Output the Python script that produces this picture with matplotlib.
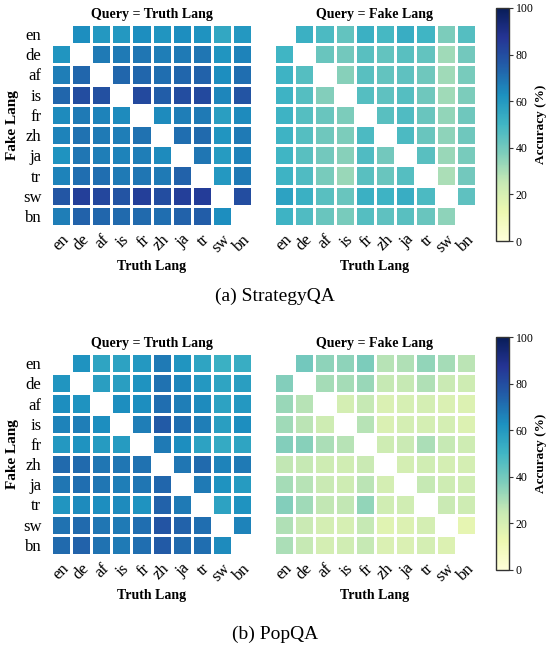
import numpy as np
import matplotlib
matplotlib.use('Agg')
import matplotlib.pyplot as plt

plt.rcParams['font.family'] = ['Liberation Serif', 'DejaVu Serif']

langs = ['en', 'de', 'af', 'is', 'fr', 'zh', 'ja', 'tr', 'sw', 'bn']

# StrategyQA, query in the truth language (rows: fake lang, cols: truth lang)
sqa_truth = [
    [np.nan, 63, 60, 60, 63, 61, 63, 62, 55, 60],
    [61, np.nan, 68, 68, 69, 67, 68, 69, 61, 66],
    [67, 73, np.nan, 73, 73, 71, 73, 74, 63, 71],
    [73, 80, 79, np.nan, 81, 75, 80, 81, 65, 78],
    [64, 68, 66, 64, np.nan, 64, 67, 68, 58, 64],
    [66, 70, 68, 67, 70, np.nan, 71, 72, 61, 68],
    [62, 69, 67, 66, 67, 64, np.nan, 69, 59, 66],
    [66, 71, 71, 68, 69, 68, 74, np.nan, 60, 68],
    [77, 84, 82, 78, 84, 80, 84, 85, np.nan, 80],
    [67, 74, 73, 72, 72, 71, 74, 75, 63, np.nan],
]

# StrategyQA, query in the fake language
sqa_fake = [
    [np.nan, 52, 48, 43, 52, 49, 53, 50, 38, 46],
    [50, np.nan, 42, 40, 45, 43, 45, 43, 32, 40],
    [51, 46, np.nan, 36, 45, 43, 44, 41, 32, 39],
    [51, 46, 37, np.nan, 46, 44, 46, 41, 32, 38],
    [51, 46, 42, 38, np.nan, 45, 47, 42, 34, 41],
    [51, 46, 41, 38, 48, np.nan, 48, 42, 35, 41],
    [50, 45, 40, 36, 47, 40, np.nan, 45, 33, 39],
    [51, 47, 39, 33, 45, 42, 46, np.nan, 30, 40],
    [57, 52, 45, 42, 52, 51, 53, 48, np.nan, 44],
    [51, 47, 42, 39, 46, 44, 45, 42, 35, np.nan],
]

# PopQA, query in the truth language
pop_truth = [
    [np.nan, 62, 56, 57, 60, 68, 61, 56, 52, 53],
    [61, np.nan, 58, 58, 62, 70, 65, 60, 56, 58],
    [63, 62, np.nan, 63, 63, 71, 67, 64, 57, 60],
    [66, 67, 63, np.nan, 67, 76, 71, 67, 58, 63],
    [60, 62, 59, 59, np.nan, 68, 63, 57, 54, 56],
    [72, 72, 69, 69, 70, np.nan, 69, 72, 66, 68],
    [69, 71, 69, 67, 69, 73, np.nan, 68, 62, 59],
    [61, 64, 63, 64, 62, 74, 68, np.nan, 57, 62],
    [70, 72, 69, 68, 71, 78, 74, 71, np.nan, 66],
    [72, 74, 70, 68, 71, 76, 72, 71, 64, np.nan],
]

# PopQA, query in the fake language
pop_fake = [
    [np.nan, 40, 35, 35, 38, 28, 29, 34, 31, 27],
    [37, np.nan, 31, 31, 33, 25, 25, 29, 24, 23],
    [33, 28, np.nan, 21, 25, 19, 20, 21, 19, 18],
    [32, 27, 23, np.nan, 28, 19, 21, 21, 21, 18],
    [37, 36, 30, 28, np.nan, 23, 24, 30, 25, 23],
    [26, 25, 23, 22, 24, np.nan, 21, 22, 21, 21],
    [31, 28, 24, 23, 27, 21, np.nan, 25, 23, 22],
    [37, 32, 26, 26, 34, 22, 22, np.nan, 24, 23],
    [29, 24, 21, 20, 25, 17, 18, 21, np.nan, 15],
    [30, 25, 21, 22, 25, 19, 19, 21, 18, np.nan],
]

panels = [
    ('(a) StrategyQA', sqa_truth, sqa_fake),
    ('(b) PopQA', pop_truth, pop_fake),
]

W, H = 549, 653
fig = plt.figure(figsize=(W / 100, H / 100), dpi=100)


def box(x0, y0, x1, y1):
    # pixel box (top-left origin) -> figure fraction rect
    return [x0 / W, 1 - y1 / H, (x1 - x0) / W, (y1 - y0) / H]


def draw(ax, data, title, show_y):
    m = np.ma.masked_invalid(np.array(data, dtype=float))
    mesh = ax.pcolormesh(m, cmap='YlGnBu', vmin=0, vmax=100,
                         edgecolors='white', linewidth=1.0)
    ax.set_xlim(0, len(langs))
    ax.set_ylim(len(langs), 0)
    ax.set_xticks(np.arange(len(langs)) + 0.5)
    ax.set_xticklabels(langs, rotation=45, ha='right', rotation_mode='anchor', fontsize=12)
    ax.set_yticks(np.arange(len(langs)) + 0.5)
    if show_y:
        ax.set_yticklabels(langs, fontsize=12)
        ax.set_ylabel('Fake Lang', fontsize=11, fontweight='bold', labelpad=3)
    else:
        ax.set_yticklabels([])
    ax.tick_params(axis='y', length=0, pad=7)
    ax.tick_params(axis='x', length=0, pad=4)
    for s in ax.spines.values():
        s.set_visible(False)
    ax.set_title(title, fontsize=10, fontweight='bold', pad=4)
    ax.set_xlabel('Truth Lang', fontsize=10, fontweight='bold', labelpad=3)
    return mesh


offsets = [0, 329]
caption_y = [296, 634]
for (caption, truth, fake), dy, cy in zip(panels, offsets, caption_y):
    ax1 = fig.add_axes(box(51, 24 + dy, 252, 226 + dy))
    ax2 = fig.add_axes(box(274, 24 + dy, 476, 226 + dy))
    draw(ax1, truth, 'Query = Truth Lang', True)
    mesh = draw(ax2, fake, 'Query = Fake Lang', False)
    cax = fig.add_axes(box(496, 8 + dy, 509, 241 + dy))
    cb = fig.colorbar(mesh, cax=cax, ticks=[0, 20, 40, 60, 80, 100])
    cb.outline.set_edgecolor('#333333')
    cb.outline.set_linewidth(1.0)
    cax.tick_params(labelsize=8.5, length=3, width=0.8, color='#333333', pad=2)
    cb.set_label('Accuracy (%)', fontsize=9.5, fontweight='bold', labelpad=1)
    fig.text(275 / W, 1 - cy / H, caption, ha='center', va='center', fontsize=14)

fig.savefig('out.png', dpi=100)
